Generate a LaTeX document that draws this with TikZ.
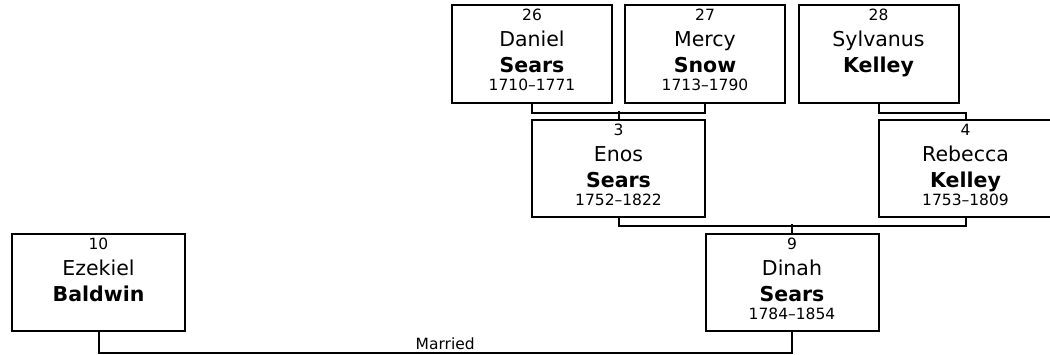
\documentclass[tikz,border=0pt]{standalone}
\usepackage{fontspec}
\setmainfont{DejaVu Sans}

\begin{document}
\begin{tikzpicture}[x=1pt,y=-1pt]
    \tikzstyle{person}=[draw=black, line width=2pt, inner sep=0pt]
    \tikzstyle{topbox}=[person, minimum width=160pt, minimum height=98pt]
    \tikzstyle{lowbox}=[person, minimum width=173pt, minimum height=97pt]
    \tikzstyle{link}=[black, line width=2pt]
    \tikzstyle{small}=[font=\fontsize{15.5}{18}\selectfont, anchor=base, inner sep=0pt]
    \tikzstyle{big}=[font=\fontsize{20.5}{24}\selectfont, anchor=base, inner sep=0pt]
    \useasboundingbox (0,0) rectangle (1050,354);
    \node [topbox] (b26) at (532,54) {};
    \node [small] (n26) at ([yshift=-16pt]b26.north) {26};
    \node [big] (f26) at ([yshift=-42.5pt]b26.north) {Daniel};
    \node [big] (s26) at ([yshift=-68pt]b26.north) {\textbf{Sears}};
    \node [small] (d26) at ([yshift=-86pt]b26.north) {1710–1771};
    \node [topbox] (b27) at (705,54) {};
    \node [small] (n27) at ([yshift=-16pt]b27.north) {27};
    \node [big] (f27) at ([yshift=-42.5pt]b27.north) {Mercy};
    \node [big] (s27) at ([yshift=-68pt]b27.north) {\textbf{Snow}};
    \node [small] (d27) at ([yshift=-86pt]b27.north) {1713–1790};
    \node [topbox] (b28) at (878.5,54) {};
    \node [small] (n28) at ([yshift=-16pt]b28.north) {28};
    \node [big] (f28) at ([yshift=-42.5pt]b28.north) {Sylvanus};
    \node [big] (s28) at ([yshift=-68pt]b28.north) {\textbf{Kelley}};
    \node [lowbox] (b3) at (618.5,168.5) {};
    \node [small] (n3) at ([yshift=-16pt]b3.north) {3};
    \node [big] (f3) at ([yshift=-42.5pt]b3.north) {Enos};
    \node [big] (s3) at ([yshift=-68pt]b3.north) {\textbf{Sears}};
    \node [small] (d3) at ([yshift=-86pt]b3.north) {1752–1822};
    \node [lowbox] (b4) at (965.5,168.5) {};
    \node [small] (n4) at ([yshift=-16pt]b4.north) {4};
    \node [big] (f4) at ([yshift=-42.5pt]b4.north) {Rebecca};
    \node [big] (s4) at ([yshift=-68pt]b4.north) {\textbf{Kelley}};
    \node [small] (d4) at ([yshift=-86pt]b4.north) {1753–1809};
    \node [lowbox] (b10) at (98.5,282.5) {};
    \node [small] (n10) at ([yshift=-16pt]b10.north) {10};
    \node [big] (f10) at ([yshift=-42.5pt]b10.north) {Ezekiel};
    \node [big] (s10) at ([yshift=-68pt]b10.north) {\textbf{Baldwin}};
    \node [lowbox] (b9) at (792,282.5) {};
    \node [small] (n9) at ([yshift=-16pt]b9.north) {9};
    \node [big] (f9) at ([yshift=-42.5pt]b9.north) {Dinah};
    \node [big] (s9) at ([yshift=-68pt]b9.north) {\textbf{Sears}};
    \node [small] (d9) at ([yshift=-86pt]b9.north) {1784–1854};
    \draw [link] (b26.south) -- ++(0,9) -| (b27.south);
    \draw [link] (b3.north) -- ++(0,-8);
    \draw [link] (b28.south) -- ++(0,9) -| (b4.north);
    \draw [link] (b3.south) -- ++(0,8) -| (b4.south);
    \draw [link] (b9.north) -- ++(0,-9);
    \draw [link] (b10.south) -- ++(0,21) -| (b9.south) node [small, pos=0.25, yshift=4pt] (wed) {Married};
\end{tikzpicture}
\end{document}
